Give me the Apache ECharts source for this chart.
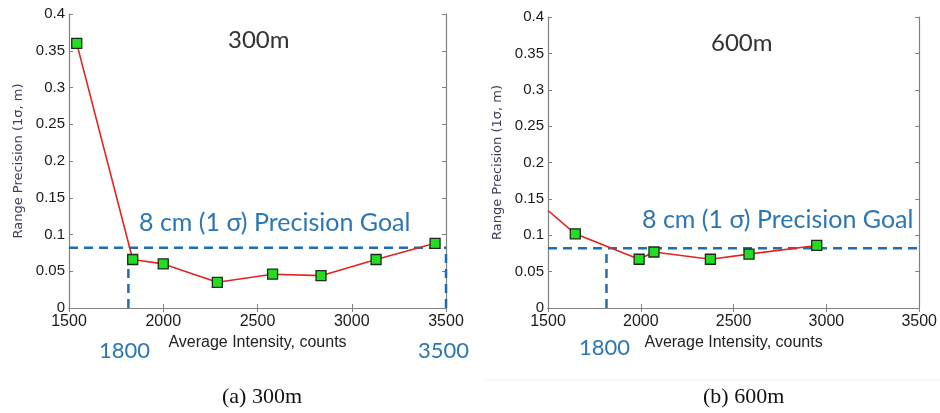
<!DOCTYPE html>
<html>
<head>
<meta charset="utf-8">
<script src="https://cdn.jsdelivr.net/npm/echarts@6/dist/echarts.min.js"></script>
<style>html,body{margin:0;padding:0;background:#fff;}#c{width:940px;height:413px;}</style>
</head>
<body>
<div id="c"></div>
<script>
// ---- data ----
const panelTitles = ['300m', '600m'];
const captions = ['(a) 300m', '(b) 600m'];
const x300 = [1541, 1838, 2000, 2287, 2580, 2837, 3129, 3442];
const y300 = [0.360, 0.066, 0.060, 0.035, 0.046, 0.044, 0.066, 0.088];
const x600 = [1500, 1647, 1991, 2071, 2375, 2583, 2948];
const y600 = [0.134, 0.102, 0.067, 0.077, 0.067, 0.074, 0.086];
const goalY = 0.082;
const goalX = 1815;
const goalXLabel = '1800';
const endX = 3500;
const endXLabel = '3500';
const goalText = '8 cm (1 σ) Precision Goal';
const xMin = 1500, xMax = 3500, xStep = 500;
const yMin = 0, yMax = 0.4, yStep = 0.05;
const xName = 'Average Intensity, counts';
const yName = 'Range Precision (1σ, m)';

// ---- styles ----
const axisGray = '#808080';
const tickText = '#1a1a1a';
const blue = '#2b76b4';
const dashBlue = '#1f6db2';
const red = '#e3231f';

const grids = [
  {left: 69, top: 14, width: 377, height: 294},
  {left: 548, top: 17, width: 372, height: 291}
];

function mainX(i) {
  return {
    type: 'value', gridIndex: i, min: xMin, max: xMax, interval: xStep, position: 'bottom',
    name: xName, nameLocation: 'middle', nameGap: 26,
    nameTextStyle: {fontFamily: 'Liberation Sans', fontSize: 16, color: '#222'},
    axisLine: {show: true, lineStyle: {color: axisGray, width: 1.2}},
    axisTick: {show: true, inside: true, length: 4, lineStyle: {color: axisGray}},
    axisLabel: {fontFamily: 'Liberation Sans', fontSize: 16, color: tickText, margin: 6,
      formatter: v => String(v)},
    splitLine: {show: false}
  };
}
function topX(i) {
  return {
    type: 'value', gridIndex: i, min: xMin, max: xMax, interval: xStep, position: 'top',
    axisLine: {show: true, lineStyle: {color: axisGray, width: 1.2}},
    axisTick: {show: true, inside: true, length: 4, lineStyle: {color: axisGray}},
    axisLabel: {show: false}, splitLine: {show: false}
  };
}
function mainY(i) {
  return {
    type: 'value', gridIndex: i, min: yMin, max: yMax, interval: yStep, position: 'left',
    name: yName, nameLocation: 'middle', nameGap: 44,
    nameTextStyle: {fontFamily: 'DejaVu Sans', fontSize: 13, color: '#3a3f55'},
    axisLine: {show: true, lineStyle: {color: axisGray, width: 1.2}},
    axisTick: {show: true, inside: true, length: 4, lineStyle: {color: axisGray}},
    axisLabel: {fontFamily: 'Liberation Sans', fontSize: 15, color: tickText, margin: 4},
    splitLine: {show: false}
  };
}
function rightY(i) {
  return {
    type: 'value', gridIndex: i, min: yMin, max: yMax, interval: yStep, position: 'right',
    axisLine: {show: true, lineStyle: {color: axisGray, width: 1.2}},
    axisTick: {show: true, inside: true, length: 4, lineStyle: {color: axisGray}},
    axisLabel: {show: false}, splitLine: {show: false}
  };
}

function dataLine(xs, ys, axisIdx, skipFirstSymbol) {
  return {
    type: 'line', xAxisIndex: axisIdx, yAxisIndex: axisIdx,
    data: xs.map((x, k) => {
      const item = {value: [x, ys[k]]};
      if (skipFirstSymbol && k === 0) item.symbol = 'none';
      return item;
    }),
    symbol: 'rect', symbolSize: 10, showSymbol: true,
    lineStyle: {color: red, width: 1.6},
    itemStyle: {color: '#22dd22', borderColor: '#1b2b1b', borderWidth: 1.3},
    z: 5, clip: true, animation: false
  };
}
function dashed(pts, axisIdx) {
  return {
    type: 'line', xAxisIndex: axisIdx, yAxisIndex: axisIdx,
    data: pts, symbol: 'none',
    lineStyle: {color: dashBlue, width: 2.5, type: [9, 6]},
    z: 3, clip: false, animation: false
  };
}

const series = [
  dashed([[xMin, goalY], [xMax, goalY]], 0),
  dashed([[goalX, 0], [goalX, goalY]], 0),
  dashed([[endX, 0], [endX, goalY]], 0),
  dataLine(x300, y300, 0, false),
  dashed([[xMin, goalY], [xMax, goalY]], 2),
  dashed([[goalX, 0], [goalX, goalY]], 2),
  dataLine(x600, y600, 2, true)
];

const annFont = 'Lato';
const graphic = [
  {type: 'text', left: 228, top: 28, style: {text: panelTitles[0], font: '24px ' + annFont, fill: '#333'}},
  {type: 'text', left: 711, top: 31, style: {text: panelTitles[1], font: '24px ' + annFont, fill: '#333'}},
  {type: 'text', left: 139, top: 210, style: {text: goalText, font: '25px ' + annFont, fill: blue}},
  {type: 'text', left: 642, top: 207, style: {text: goalText, font: '25px ' + annFont, fill: blue}},
  {type: 'text', left: 99, top: 340, style: {text: goalXLabel, font: '22px ' + annFont, fill: blue}},
  {type: 'text', left: 418, top: 340, style: {text: endXLabel, font: '22px ' + annFont, fill: blue}},
  {type: 'text', left: 579, top: 337, style: {text: goalXLabel, font: '22px ' + annFont, fill: blue}},
  {type: 'line', shape: {x1: 485, y1: 380, x2: 940, y2: 380}, style: {stroke: '#f0f0f0', lineWidth: 1}},
  {type: 'text', left: 222, top: 386, style: {text: captions[0], font: '22px "Liberation Serif"', fill: '#111'}},
  {type: 'text', left: 703, top: 386, style: {text: captions[1], font: '22px "Liberation Serif"', fill: '#111'}}
];

const chart = echarts.init(document.getElementById('c'), null, {renderer: 'canvas'});
chart.setOption({
  animation: false,
  backgroundColor: '#fff',
  grid: grids,
  xAxis: [mainX(0), topX(0), mainX(1), topX(1)].map((a, k) => Object.assign(a, {gridIndex: k < 2 ? 0 : 1})),
  yAxis: [mainY(0), rightY(0), mainY(1), rightY(1)].map((a, k) => Object.assign(a, {gridIndex: k < 2 ? 0 : 1})),
  series: series,
  graphic: graphic
});
</script>
</body>
</html>
